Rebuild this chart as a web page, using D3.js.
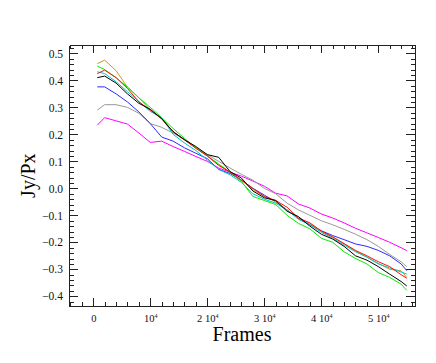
<!DOCTYPE html>
<html>
<head>
<meta charset="utf-8">
<script src="https://cdn.jsdelivr.net/npm/d3@7"></script>
<style>
    body { margin: 0; background: #fff; }
    svg { display: block; font-family: "Liberation Serif", "Times New Roman", serif; }
    .axis path, .axis line { stroke: #222; shape-rendering: crispEdges; }
    .axis text { fill: #111; font-family: "Liberation Serif", serif; }
    .series { fill: none; stroke-width: 1; }
</style>
</head>
<body>
<svg id="chart" width="436" height="363"></svg>
<script>
// frame numbers where each curve was sampled
const frames = [700, 2000, 4000, 6000, 8000, 10000, 12000, 14000, 16000, 18000, 20000,
    22000, 24000, 26000, 28000, 30000, 32000, 34000, 36000, 38000, 40000,
    42000, 44000, 46000, 48000, 50000, 52000, 54000, 55000];

const goldValues = [0.462, 0.475, 0.436, 0.375, 0.336, 0.29, 0.258, 0.21, 0.18, 0.15, 0.12,
    0.088, 0.06, 0.03, -0.005, -0.03, -0.05, -0.08, -0.11, -0.13, -0.16,
    -0.18, -0.205, -0.232, -0.255, -0.278, -0.3, -0.305, -0.33];
const greenValues = [0.453, 0.44, 0.41, 0.375, 0.335, 0.3, 0.262, 0.222, 0.185, 0.15, 0.12,
    0.09, 0.06, 0.025, -0.03, -0.045, -0.06, -0.1, -0.13, -0.15, -0.185,
    -0.2, -0.235, -0.26, -0.28, -0.312, -0.33, -0.355, -0.378];
const redValues = [0.425, 0.438, 0.41, 0.37, 0.32, 0.29, 0.258, 0.21, 0.18, 0.148, 0.12,
    0.085, 0.06, 0.03, 0.0, -0.03, -0.045, -0.07, -0.11, -0.128, -0.158,
    -0.18, -0.205, -0.23, -0.25, -0.272, -0.29, -0.32, -0.333];
const cyanValues = [0.432, 0.425, 0.395, 0.358, 0.322, 0.285, 0.262, 0.2, 0.168, 0.14, 0.105,
    0.07, 0.05, 0.022, -0.02, -0.04, -0.055, -0.08, -0.115, -0.135, -0.163,
    -0.185, -0.21, -0.235, -0.255, -0.28, -0.295, -0.31, -0.318];
const blackValues = [0.41, 0.416, 0.39, 0.35, 0.315, 0.293, 0.258, 0.21, 0.18, 0.155, 0.125,
    0.115, 0.062, 0.038, -0.01, -0.035, -0.045, -0.085, -0.105, -0.14, -0.17,
    -0.188, -0.215, -0.25, -0.266, -0.29, -0.318, -0.345, -0.362];
const blueValues = [0.376, 0.376, 0.35, 0.32, 0.283, 0.24, 0.19, 0.175, 0.15, 0.13, 0.11,
    0.07, 0.055, 0.03, 0.0, -0.025, -0.05, -0.08, -0.112, -0.135, -0.157,
    -0.175, -0.19, -0.206, -0.215, -0.23, -0.25, -0.28, -0.305];
const grayValues = [0.29, 0.31, 0.31, 0.3, 0.278, 0.24, 0.226, 0.205, 0.18, 0.15, 0.125,
    0.1, 0.075, 0.052, 0.03, 0.0, -0.02, -0.055, -0.08, -0.1, -0.12,
    -0.135, -0.152, -0.17, -0.19, -0.215, -0.245, -0.272, -0.29];
const magentaValues = [0.234, 0.262, 0.25, 0.238, 0.205, 0.17, 0.175, 0.155, 0.137, 0.118, 0.1,
    0.075, 0.06, 0.045, 0.027, 0.008, -0.018, -0.028, -0.058, -0.073, -0.095,
    -0.11, -0.128, -0.148, -0.165, -0.182, -0.2, -0.22, -0.231];

const xMajorTicks = [0, 10000, 20000, 30000, 40000, 50000];
const yMajorTicks = [-0.4, -0.3, -0.2, -0.1, 0.0, 0.1, 0.2, 0.3, 0.4, 0.5];

class LineChart {
    constructor() {
        this.svg = d3.select('#chart');
        this.left = 69;
        this.right = 415;
        this.top = 45.3;
        this.bottom = 306;

        this.x = d3.scaleLinear()
            .domain([-4260, 56440])
            .range([this.left, this.right]);
        this.y = d3.scaleLinear()
            .domain([-0.436, 0.53])
            .range([this.bottom, this.top]);

        this.renderAxes();
        this.renderLines();
        this.renderTitles();
    }

    renderAxes() {
        const xMinor = d3.range(-4000, 56001, 2000);
        const yMinor = d3.range(-21, 27).map(d => d * 0.02);

        // bottom
        const bottomAxis = this.svg.append('g')
            .attr('class', 'axis')
            .attr('transform', `translate(0,${this.bottom})`);
        bottomAxis.call(d3.axisBottom(this.x).tickValues(xMinor).tickSizeInner(-4).tickSizeOuter(0).tickFormat(''));
        const bottomMajor = bottomAxis.append('g')
            .call(d3.axisBottom(this.x).tickValues(xMajorTicks).tickSizeInner(-8).tickSizeOuter(0).tickPadding(9))
            .call(g => g.select('.domain').remove());
        bottomMajor.selectAll('text')
            .attr('font-size', 10.5)
            .each(function (d) {
                const t = d3.select(this);
                t.text(null);
                if (d === 0) {
                    t.text('0');
                    return;
                }
                const m = d / 10000;
                if (m > 1) t.append('tspan').text(m + ' ');
                t.append('tspan').text('10');
                t.append('tspan').attr('dy', -4).attr('font-size', 6).text('4');
            });

        // top
        const topAxis = this.svg.append('g')
            .attr('class', 'axis')
            .attr('transform', `translate(0,${this.top})`);
        topAxis.call(d3.axisTop(this.x).tickValues(xMinor).tickSizeInner(-4).tickSizeOuter(0).tickFormat(''));
        topAxis.append('g').call(d3.axisTop(this.x).tickValues(xMajorTicks).tickSizeInner(-8).tickSizeOuter(0).tickFormat(''))
            .call(g => g.select('.domain').remove());

        // left
        const leftAxis = this.svg.append('g')
            .attr('class', 'axis')
            .attr('transform', `translate(${this.left},0)`);
        leftAxis.call(d3.axisLeft(this.y).tickValues(yMinor).tickSizeInner(-4.5).tickSizeOuter(0).tickFormat(''));
        const leftMajor = leftAxis.append('g')
            .call(d3.axisLeft(this.y).tickValues(yMajorTicks).tickSizeInner(-9).tickSizeOuter(0).tickPadding(6)
                .tickFormat(d => d3.format('.1f')(d).replace('-', '\u2212')))
            .call(g => g.select('.domain').remove());
        leftMajor.selectAll('text').attr('font-size', 11.5);

        // right
        const rightAxis = this.svg.append('g')
            .attr('class', 'axis')
            .attr('transform', `translate(${this.right},0)`);
        rightAxis.call(d3.axisRight(this.y).tickValues(yMinor).tickSizeInner(-4.5).tickSizeOuter(0).tickFormat(''));
        rightAxis.append('g').call(d3.axisRight(this.y).tickValues(yMajorTicks).tickSizeInner(-9).tickSizeOuter(0).tickFormat(''))
            .call(g => g.select('.domain').remove());

        // no labels on the minor ticks
        this.svg.selectAll('.axis > .tick text').remove();
    }

    renderLines() {
        const series = [
            { values: magentaValues, color: '#ff00ff' },
            { values: grayValues, color: '#999999' },
            { values: blueValues, color: '#2a2aff' },
            { values: goldValues, color: '#c89a1e' },
            { values: greenValues, color: '#00ee00' },
            { values: cyanValues, color: '#00c4c4' },
            { values: redValues, color: '#ff1010' },
            { values: blackValues, color: '#000000' }
        ];

        const line = d3.line()
            .x(d => this.x(d[0]))
            .y(d => this.y(d[1]));

        this.svg.append('g')
            .selectAll('path')
            .data(series)
            .enter().append('path')
            .attr('class', 'series')
            .attr('stroke', d => d.color)
            .attr('d', d => line(frames.map((f, i) => [f, d.values[i]])));
    }

    renderTitles() {
        this.svg.append('text')
            .attr('x', (this.left + this.right) / 2)
            .attr('y', 341)
            .attr('text-anchor', 'middle')
            .attr('font-size', 20)
            .text('Frames');

        this.svg.append('text')
            .attr('transform', `translate(35,${(this.top + this.bottom) / 2}) rotate(-90)`)
            .attr('text-anchor', 'middle')
            .attr('font-size', 20)
            .text('Jy/Px');
    }
}

new LineChart();
</script>
</body>
</html>
